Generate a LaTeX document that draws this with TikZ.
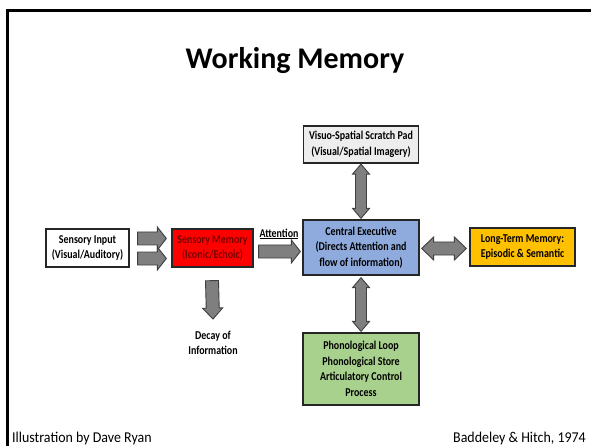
\documentclass[tikz,border=0pt]{standalone}
\usepackage{fontspec}
\setmainfont{Carlito}
\newfontfamily\boxfont{Carlito}[FakeStretch=0.83]
\newfontfamily\footfont{Carlito}[FakeStretch=0.93]
\usetikzlibrary{calc}
\definecolor{arrowfill}{HTML}{7F7F7F}
\definecolor{arrowline}{HTML}{3F3F3F}
\definecolor{boxline}{HTML}{262626}
\definecolor{memred}{HTML}{FF0000}
\definecolor{memtext}{HTML}{780000}
\definecolor{ceblue}{HTML}{8FAADC}
\definecolor{plgreen}{HTML}{A9D18E}
\definecolor{ltmgold}{HTML}{FFC000}
\definecolor{vsgrey}{HTML}{EDEDED}
\tikzset{
  mbox/.style={draw=boxline, line width=1.3pt, inner sep=0pt, align=center,
    font=\boxfont\bfseries\fontsize{12}{15.5}\selectfont},
  plaintext/.style={inner sep=0pt, align=center,
    font=\boxfont\bfseries\fontsize{12}{15}\selectfont},
  foot/.style={inner sep=0pt, font=\footfont\fontsize{15}{18}\selectfont},
  blockarrow/.style={draw=arrowline, fill=arrowfill, line width=0.9pt, line join=miter},
}
% single block arrow: from, to, shaft half width, head half width, head length
\newcommand\onearrow[5]{%
  \draw[blockarrow] let \p1=(#1), \p2=(#2),
    \n1={atan2(\y2-\y1,\x2-\x1)}, \n2={veclen(\x2-\x1,\y2-\y1)} in
    [shift={(\p1)}, rotate=\n1]
    (0pt,#3pt) -- ({\n2*1pt-#5pt},#3pt) -- ({\n2*1pt-#5pt},#4pt) -- ({\n2*1pt},0pt)
    -- ({\n2*1pt-#5pt},-#4pt) -- ({\n2*1pt-#5pt},-#3pt) -- (0pt,-#3pt) -- cycle;}
% double block arrow
\newcommand\twoarrow[5]{%
  \draw[blockarrow] let \p1=(#1), \p2=(#2),
    \n1={atan2(\y2-\y1,\x2-\x1)}, \n2={veclen(\x2-\x1,\y2-\y1)} in
    [shift={(\p1)}, rotate=\n1]
    (0pt,0pt) -- (#5pt,#4pt) -- (#5pt,#3pt) -- ({\n2*1pt-#5pt},#3pt) -- ({\n2*1pt-#5pt},#4pt)
    -- ({\n2*1pt},0pt) -- ({\n2*1pt-#5pt},-#4pt) -- ({\n2*1pt-#5pt},-#3pt)
    -- (#5pt,-#3pt) -- (#5pt,-#4pt) -- cycle;}
\begin{document}
\begin{tikzpicture}[x=1pt,y=-1pt]
\useasboundingbox (0,0) rectangle (591,446);
\draw[line width=2.6pt] (7.5,446) -- (7.5,10.5) -- (591,10.5);

\node[font=\bfseries\fontsize{30}{36}\selectfont, anchor=base, inner sep=0pt] (title) at (295,69) {Working Memory};

\node[mbox, fill=white, minimum width=83pt, minimum height=38pt] (in) at (87.5,248) {Sensory Input\\(Visual/Auditory)};
\node[mbox, fill=memred, text=memtext, minimum width=81pt, minimum height=38pt] (mem) at (212.5,248) {Sensory Memory\\(Iconic/Echoic)};
\node[mbox, fill=ceblue, minimum width=116pt, minimum height=55pt] (ce) at (361,247.5) {Central Executive\\(Directs Attention and\\flow of information)};
\node[mbox, fill=vsgrey, minimum width=115pt, minimum height=37pt] (vs) at (361,144.5) {Visuo-Spatial Scratch Pad\\(Visual/Spatial Imagery)};
\node[mbox, fill=ltmgold, minimum width=105pt, minimum height=38pt] (ltm) at (522.5,247) {Long-Term Memory:\\Episodic \& Semantic};
\node[mbox, fill=plgreen, minimum width=116pt, minimum height=72pt] (pl) at (361,369) {Phonological Loop\\Phonological Store\\Articulatory Control\\Process};
\node[plaintext] (decay) at (213,343) {Decay of\\Information};
\node[plaintext, anchor=base] (att) at (279,237) {\underline{Attention}};

\onearrow{[xshift=8pt,yshift=9.5pt]in.east}{[xshift=-5pt,yshift=9.5pt]mem.west}{6.5}{11.5}{9}
\onearrow{[xshift=8pt,yshift=-10.5pt]in.east}{[xshift=-5pt,yshift=-10.5pt]mem.west}{6.5}{11.5}{9}
\onearrow{[xshift=5pt,yshift=-3.5pt]mem.east}{[xshift=-2pt,yshift=-4pt]ce.west}{6.5}{11.5}{9}
\onearrow{[xshift=-0.5pt,yshift=-13pt]mem.south}{[yshift=12pt]decay.north}{6.5}{10}{11}
\twoarrow{[yshift=-0.5pt]vs.south}{[yshift=1pt]ce.north}{5.5}{8.5}{10}
\twoarrow{[yshift=-2pt]ce.south}{[yshift=1pt]pl.north}{5.5}{8.5}{10}
\twoarrow{[xshift=2pt,yshift=-1pt]ce.east}{[xshift=-3pt,yshift=-1.5pt]ltm.west}{6.5}{11.5}{12}

\node[foot, anchor=base west] (credit) at (12,442) {Illustration by Dave Ryan};
\node[foot, anchor=base east] (source) at (586,442) {Baddeley \& Hitch, 1974};
\end{tikzpicture}
\end{document}
